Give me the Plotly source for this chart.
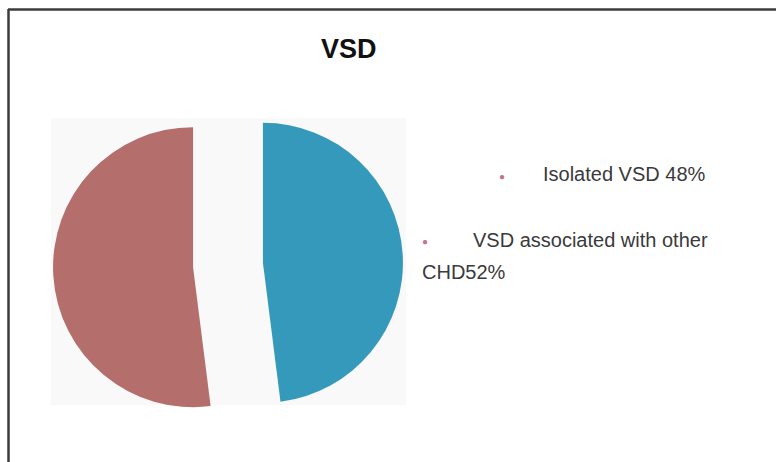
import plotly.graph_objects as go

# ---- data ----
title_text = "VSD"
labels = ["Isolated VSD", "VSD associated with other CHD"]
values = [48, 52]
legend_lines = [["Isolated VSD 48%"], ["VSD associated with other", "CHD52%"]]
colors = ["#3499ba", "#b46e6b"]
dot_color = "#c4738f"

W, H = 776, 462

def px(x):
    return x / W

def py(y):
    return 1 - y / H

fig = go.Figure()

fig.add_trace(go.Pie(
    labels=labels,
    values=values,
    sort=False,
    direction="clockwise",
    rotation=0,
    pull=[0.25, 0.25],
    marker=dict(colors=colors, line=dict(width=0)),
    textinfo="none",
    showlegend=False,
    domain=dict(x=[px(53), px(403)], y=[py(440), py(90)]),
))

shapes = [
    # light gray panel behind the pie
    dict(type="rect", xref="paper", yref="paper", x0=px(51), x1=px(406), y0=py(405), y1=py(118),
         fillcolor="#f9f9f9", line=dict(width=0), layer="below"),
    # outer frame (top & left)
    dict(type="line", xref="paper", yref="paper", x0=px(8), x1=1.02, y0=py(9.5), y1=py(9.5),
         line=dict(color="#3c3c3c", width=2.5)),
    dict(type="line", xref="paper", yref="paper", x0=px(8.5), x1=px(8.5), y0=py(9), y1=-0.02,
         line=dict(color="#3c3c3c", width=2.5)),
]

font_main = "Liberation Sans, Arial, sans-serif"
text_color = "#3a3a3a"
annotations = [
    dict(text=f"<b>{title_text}</b>", x=px(349), y=py(49), xref="paper", yref="paper",
         showarrow=False, xanchor="center", yanchor="middle",
         font=dict(family=font_main, size=27, color="#111111")),
    # legend entry 1
    dict(text="●", x=px(502), y=py(176), xref="paper", yref="paper", showarrow=False,
         xanchor="center", yanchor="middle", font=dict(size=10, color=dot_color)),
    dict(text=legend_lines[0][0], x=px(541), y=py(174), xref="paper", yref="paper",
         showarrow=False, xanchor="left", yanchor="middle",
         font=dict(family=font_main, size=20, color=text_color)),
    # legend entry 2
    dict(text="●", x=px(425), y=py(241), xref="paper", yref="paper", showarrow=False,
         xanchor="center", yanchor="middle", font=dict(size=10, color=dot_color)),
    dict(text=legend_lines[1][0], x=px(471), y=py(240), xref="paper", yref="paper",
         showarrow=False, xanchor="left", yanchor="middle",
         font=dict(family=font_main, size=20, color=text_color)),
    dict(text=legend_lines[1][1], x=px(420), y=py(272), xref="paper", yref="paper",
         showarrow=False, xanchor="left", yanchor="middle",
         font=dict(family=font_main, size=20, color=text_color)),
]

fig.update_layout(
    width=W, height=H,
    margin=dict(l=0, r=0, t=0, b=0),
    paper_bgcolor="white",
    plot_bgcolor="white",
    shapes=shapes,
    annotations=annotations,
)

fig.write_html("out.html")
